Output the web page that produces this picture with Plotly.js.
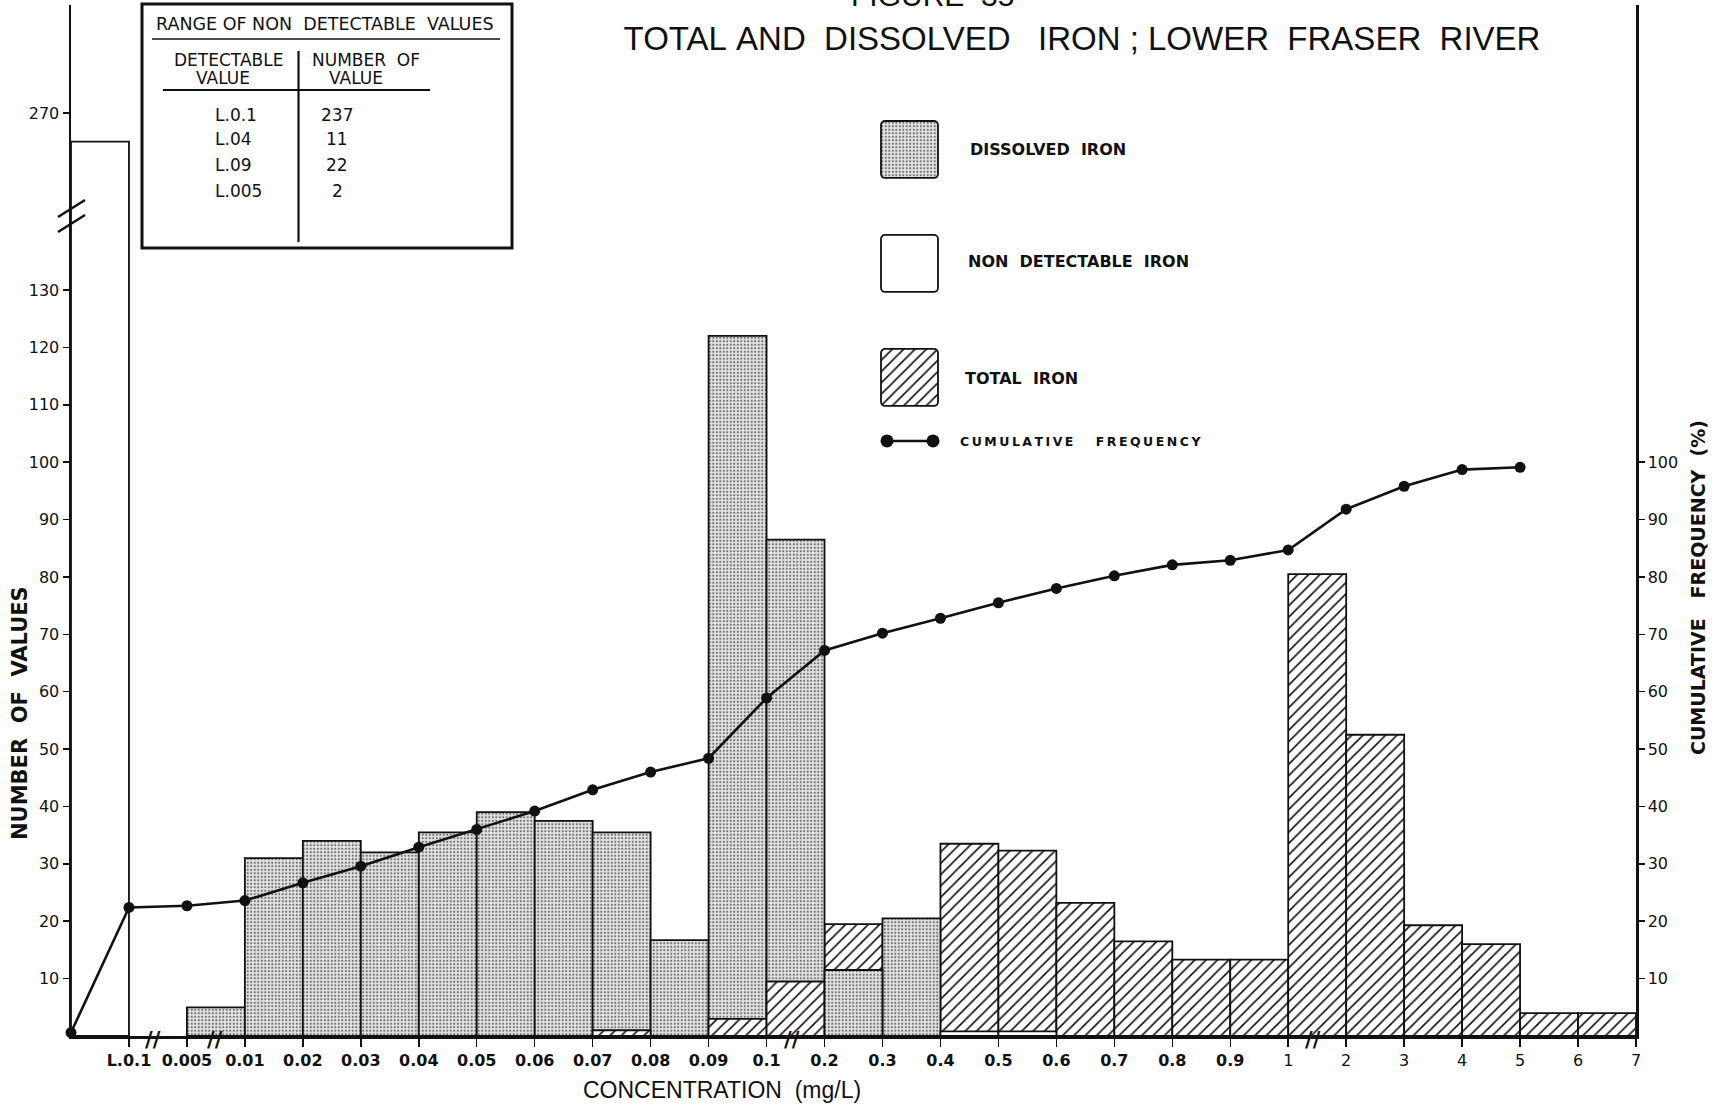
<!DOCTYPE html>
<html><head><meta charset="utf-8">
<script src="https://cdn.plot.ly/plotly-3.0.1.min.js"></script>
<style>html,body{margin:0;padding:0;background:#fff;}</style>
</head><body>
<div id="chart" style="width:1721px;height:1109px;"></div>
<script>
// ---------- DATA ----------
const tickLabels = ['L.0.1','0.005','0.01','0.02','0.03','0.04','0.05','0.06','0.07','0.08','0.09','0.1','0.2','0.3','0.4','0.5','0.6','0.7','0.8','0.9','1','2','3','4','5','6','7'];
// bin i lies between edge i and edge i+1 (edge 0 = origin, edge 1 = L.0.1, ...)
const dissolvedIron = [0,0,5,31,34,32,35.5,39,37.5,35.5,16.7,122,86.5,11.5,20.5,0,0,0,0,0,0,0,0,0,0,0,0];
const totalIron = [0,0,0,0,0,0,0,0,0,1,0,3,9.5,19.5,0,33.5,32.3,23.2,16.5,13.3,13.3,80.5,52.5,19.3,16,4,4];
const nonDetectableIron = [265,0,0,0,0,0,0,0,0,0,0,0,0,0,0,0.8,0.8,0,0,0,0,0,0,0,0,0,0];
// cumulative frequency (%) at edges 0..25
const cumulativeFrequency = [0.6,22.4,22.7,23.6,26.7,29.6,32.9,36,39.2,42.9,46,48.4,58.9,67.2,70.2,72.8,75.5,78,80.2,82.1,82.9,84.7,91.8,95.8,98.7,99.1];
const leftTicks = [10,20,30,40,50,60,70,80,90,100,110,120,130];
const upperTicks = [270];
const rightTicks = [10,20,30,40,50,60,70,80,90,100];
const tableLimits = ['L.0.1','L.04','L.09','L.005'];
const tableCounts = [237,11,22,2];
const axisBreaks = [1.42, 2.48, 12.44, 21.42];

// ---------- LAYOUT HELPERS ----------
const L = 71, R = 1636, T = 5, B = 1036;
const X = px => (px - L) / (R - L);
const Y = py => (B - py) / (B - T);
const yBreak = 217;
const dB = Y(yBreak);
const pxUnit = (B - 290) / 130;
const lowTop = (B - yBreak) / pxUnit;
const upBottom = 270 - (yBreak - 113) / pxUnit;
const upTop = upBottom + (yBreak - T) / pxUnit;

const outline = {color: '#111', width: 1.8};
const stipple = {color: '#e3e3e3', line: outline,
  pattern: {shape: '.', fgcolor: '#707070', bgcolor: '#e3e3e3', size: 3.5, solidity: 0.3}};
const hatch = {color: '#fff', line: outline,
  pattern: {shape: '/', fgcolor: '#111', bgcolor: '#fff', size: 8, solidity: 0.2}};
const blank = {color: '#fff', line: outline};

const centers = dissolvedIron.map((_, i) => i + 0.5);
const pick = (arr, keep) => arr.map((v, i) => (v > 0 && keep(i)) ? v : null);

function barTrace(y, marker, yaxis) {
  return {type: 'bar', x: centers, y: y, width: 1, marker: marker,
    xaxis: 'x', yaxis: yaxis || 'y', hoverinfo: 'skip', showlegend: false};
}

const traces = [
  barTrace(pick(totalIron, i => totalIron[i] >= dissolvedIron[i]), hatch),
  barTrace(pick(dissolvedIron, i => dissolvedIron[i] > totalIron[i]), stipple),
  barTrace(pick(totalIron, i => totalIron[i] < dissolvedIron[i]), hatch),
  barTrace(pick(dissolvedIron, i => dissolvedIron[i] <= totalIron[i]), stipple),
  barTrace(pick(nonDetectableIron, () => true), blank),
  barTrace(pick(nonDetectableIron, () => true), blank, 'y3'),
  {type: 'scatter', mode: 'lines+markers', x: cumulativeFrequency.map((_, i) => i),
    y: cumulativeFrequency, xaxis: 'x', yaxis: 'y2', cliponaxis: false,
    line: {color: '#111', width: 2.6}, marker: {color: '#111', size: 11},
    hoverinfo: 'skip', showlegend: false},
  // legend keys
  {type: 'bar', orientation: 'h', y: [3], x: [57], base: [11], width: [0.5],
    marker: Object.assign({}, stipple, {cornerradius: 5}), xaxis: 'x4', yaxis: 'y4', hoverinfo: 'skip', showlegend: false},
  {type: 'bar', orientation: 'h', y: [2], x: [57], base: [11], width: [0.5],
    marker: Object.assign({}, blank, {cornerradius: 5}), xaxis: 'x4', yaxis: 'y4', hoverinfo: 'skip', showlegend: false},
  {type: 'bar', orientation: 'h', y: [1], x: [57], base: [11], width: [0.5],
    marker: Object.assign({}, hatch, {cornerradius: 5}), xaxis: 'x4', yaxis: 'y4', hoverinfo: 'skip', showlegend: false},
  {type: 'scatter', mode: 'lines+markers', x: [17, 63], y: [0.443, 0.443], xaxis: 'x4', yaxis: 'y4',
    cliponaxis: false, line: {color: '#111', width: 2.6}, marker: {color: '#111', size: 13},
    hoverinfo: 'skip', showlegend: false}
];

const F = 'DejaVu Sans';
const txt = (x, y, text, opt) => Object.assign({xref: 'paper', yref: 'paper', x: x, y: y,
  xanchor: 'center', yanchor: 'middle',
  text: text, showarrow: false, font: {family: F, size: 17, color: '#111'}}, opt || {});
const nb = '\u00a0';
const spaced = s => s.split('').map(c => c === ' ' ? nb + nb + nb + nb : c).join('\u2009');
const f = (size, extra) => Object.assign({family: F, size: size, color: '#111'}, extra || {});

const annotations = [
  txt(X(932), Y(14), 'FIGURE' + nb + nb + '35', {yanchor: 'bottom', font: {family: 'Liberation Sans', size: 30, color: '#111'}}),
  txt(X(20), Y(713), 'NUMBER' + nb + nb + 'OF' + nb + nb + 'VALUES', {textangle: -90, font: f(21, {weight: 'bold'})}),
  txt(X(1698), Y(588), 'CUMULATIVE' + nb + nb + nb + 'FREQUENCY' + nb + nb + '(%)', {textangle: -90, font: f(19, {weight: 'bold'})}),
  txt(X(722), Y(1090), 'CONCENTRATION' + nb + nb + '(mg/L)', {font: {family: 'Liberation Sans', size: 23, color: '#111'}}),
  // legend text
  txt(X(968), Y(149), 'DISSOLVED' + nb + nb + 'IRON', {xanchor: 'left', font: f(16, {weight: 'bold'})}),
  txt(X(966), Y(261), 'NON' + nb + nb + 'DETECTABLE' + nb + nb + 'IRON', {xanchor: 'left', font: f(16, {weight: 'bold'})}),
  txt(X(963), Y(379), 'TOTAL' + nb + nb + 'IRON', {xanchor: 'left', font: f(16, {weight: 'bold'})}),
  txt(X(958), Y(441), spaced('CUMULATIVE FREQUENCY'), {xanchor: 'left', font: f(12.5, {weight: 'bold'})}),
  // inset table
  txt(X(154), Y(24), 'RANGE' + nb + 'OF' + nb + 'NON' + nb + nb + 'DETECTABLE' + nb + nb + 'VALUES', {xanchor: 'left', font: f(17.5)}),
  txt(X(228), Y(60), 'DETECTABLE', {font: f(17)}),
  txt(X(223), Y(78), 'VALUE', {font: f(17)}),
  txt(X(366), Y(60), 'NUMBER' + nb + nb + 'OF', {font: f(17)}),
  txt(X(356), Y(78), 'VALUE', {font: f(17)})
];
const rowY = [115, 139, 165, 191];
tableLimits.forEach((t, i) => {
  annotations.push(txt(X(213), Y(rowY[i]), t, {xanchor: 'left', font: f(17)}));
  annotations.push(txt(X(337), Y(rowY[i]), String(tableCounts[i]), {font: f(17)}));
});
axisBreaks.forEach(b => {
  annotations.push({xref: 'x', yref: 'paper', x: b, y: Y(1040), xanchor: 'center', yanchor: 'middle',
    text: '//', showarrow: false, font: f(21, {weight: 'bold'})});
});

const line = (x0, y0, x1, y1, w) => ({type: 'line', xref: 'paper', yref: 'paper',
  x0: X(x0), y0: Y(y0), x1: X(x1), y1: Y(y1), line: {color: '#111', width: w || 2}});
const shapes = [
  {type: 'rect', xref: 'paper', yref: 'paper', x0: X(142), y0: Y(4), x1: X(512), y1: Y(248),
    line: {color: '#111', width: 3}, fillcolor: 'rgba(0,0,0,0)'},
  line(152, 39, 500, 39, 1.5),
  line(163, 90, 430, 90, 1.8),
  line(298.5, 51, 298.5, 242, 2.2),
  line(58, 217, 85, 200, 2.5),
  line(58, 232, 85, 215, 2.5)
];

const axisCommon = {showgrid: false, zeroline: false, showline: true, linecolor: '#111', linewidth: 2.5,
  ticks: 'outside', tickcolor: '#111', tickwidth: 1.5, fixedrange: true};

const layout = {
  width: 1721, height: 1109,
  margin: {l: L, r: 1721 - R, t: T, b: 1109 - B, pad: 0},
  paper_bgcolor: '#fff', plot_bgcolor: 'rgba(0,0,0,0)',
  barmode: 'overlay', bargap: 0, showlegend: false, hovermode: false,
  title: {text: 'TOTAL' + nb + 'AND' + nb + nb + 'DISSOLVED' + nb + nb + nb + 'IRON' + nb + ';' + nb + 'LOWER' + nb + nb + 'FRASER' + nb + nb + 'RIVER',
    xref: 'paper', x: X(1082), xanchor: 'center', yref: 'container', y: 1 - 38 / 1109, yanchor: 'middle',
    font: {family: 'Liberation Sans', size: 33, color: '#111'}},
  xaxis: Object.assign({}, axisCommon, {domain: [0, 1], range: [0, 27], anchor: 'y',
    tickmode: 'array', tickvals: tickLabels.map((_, i) => i + 1),
    ticktext: tickLabels.map(t => t.indexOf('.') >= 0 ? '<b>' + t + '</b>' : t),
    ticklen: 8, tickfont: {family: F, size: 16, color: '#111'}}),
  yaxis: Object.assign({}, axisCommon, {domain: [0, dB], range: [0, lowTop], anchor: 'x',
    tickmode: 'array', tickvals: leftTicks, ticklen: 6,
    tickfont: {family: F, size: 16, color: '#111'}}),
  yaxis3: Object.assign({}, axisCommon, {domain: [dB, 1], range: [upBottom, upTop], anchor: 'x', mirror: true,
    tickmode: 'array', tickvals: upperTicks, ticklen: 6,
    tickfont: {family: F, size: 16, color: '#111'}}),
  yaxis2: Object.assign({}, axisCommon, {overlaying: 'y', side: 'right', anchor: 'x', range: [0, lowTop],
    tickmode: 'array', tickvals: rightTicks, ticklen: 6,
    tickfont: {family: F, size: 16, color: '#111'}}),
  xaxis4: {domain: [X(870), X(1000)], range: [0, 130], visible: false, anchor: 'y4', fixedrange: true},
  yaxis4: {domain: [Y(460), Y(100)], range: [0.276, 3.434], visible: false, anchor: 'x4', fixedrange: true},
  annotations: annotations,
  shapes: shapes
};

Plotly.newPlot('chart', traces, layout, {displayModeBar: false, staticPlot: true});
</script>
</body></html>
